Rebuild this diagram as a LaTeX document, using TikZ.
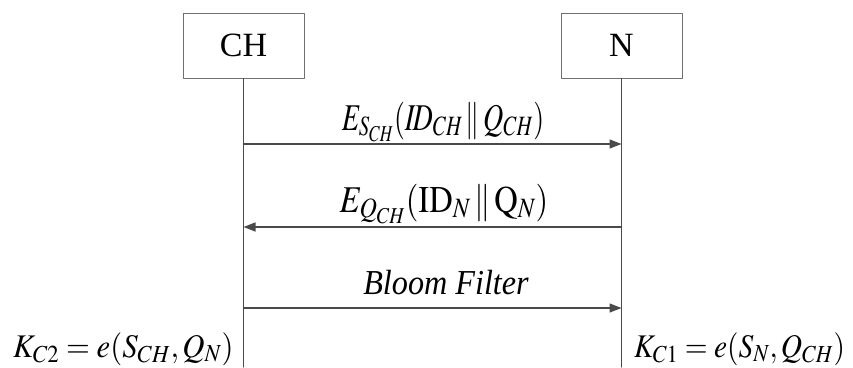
\documentclass[tikz,border=0pt]{standalone}
\usepackage{mathptmx}
\usepackage[no-math]{fontspec}
\setmainfont{Liberation Serif}
\usetikzlibrary{arrows.meta}
\definecolor{linegray}{HTML}{4A4A4A}
\definecolor{boxgray}{HTML}{707070}
\begin{document}
\begin{tikzpicture}[
  x=1pt, y=-1pt,
  line cap=round,
  line join=round,
  entity/.style={draw=boxgray, line width=1pt, minimum width=121pt, minimum height=65pt,
    inner sep=0pt, font=\fontsize{34}{40}\selectfont},
  life/.style={draw=linegray, line width=1.1pt},
  msg/.style={draw=linegray, line width=1.4pt, -{Triangle[length=12pt,width=9pt]}},
  lbl/.style={anchor=base, inner sep=0pt, font=\fontsize{35}{42}\selectfont},
  keylbl/.style={anchor=base west, inner sep=0pt, font=\fontsize{33}{40}\selectfont}
]
  \useasboundingbox (0,0) rectangle (853,367);

  % Teilnehmer
  \node[entity] (ch) at (243.5,45.5) {CH};
  \node[entity] (n) at (621.5,45.5) {N};

  \coordinate (chend) at (ch.south |- 0,367);
  \coordinate (nend) at (n.south |- 0,367);

  % Lebenslinien
  \draw[life] (ch.south) -- (chend);
  \draw[life] (n.south) -- (nend);

  \coordinate (ch1) at (ch.south |- 0,144);
  \coordinate (n1) at (n.south |- 0,144);
  \coordinate (ch2) at (ch.south |- 0,227);
  \coordinate (n2) at (n.south |- 0,227);
  \coordinate (ch3) at (ch.south |- 0,308);
  \coordinate (n3) at (n.south |- 0,308);

  % Nachrichten
  \draw[msg] (ch1) -- (n1);
  \draw[msg] (n2) -- (ch2);
  \draw[msg] (ch3) -- (n3);

  \node[lbl] (m1) at (443,130) {\scalebox{0.8}[1.08]{$E_{S_{CH}}(I\!D_{CH}\,\|\,Q_{CH})$}};
  \node[lbl] (m2) at (444,212) {\scalebox{0.93}[1.08]{$E_{Q_{CH}}(\mathrm{ID}_N\,\|\,\mathrm{Q}_N)$}};
  \node[lbl] (m3) at (446,294) {\scalebox{0.92}[1]{\itshape Bloom Filter}};

  % Schluessel
  \node[keylbl] (k2) at (13,357) {\scalebox{0.93}[1]{$K_{C2}=e(S_{CH},Q_N)$}};
  \node[keylbl] (k1) at (634,357) {\scalebox{0.89}[1]{$K_{C1}=e(S_N,Q_{CH})$}};
\end{tikzpicture}
\end{document}
